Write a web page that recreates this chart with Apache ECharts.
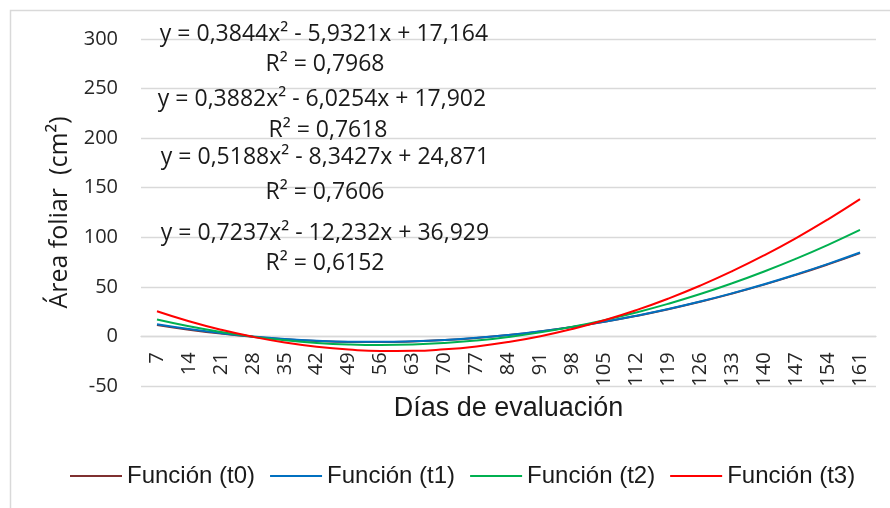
<!DOCTYPE html>
<html>
<head>
<meta charset="utf-8">
<script src="https://cdn.jsdelivr.net/npm/echarts@6/dist/echarts.min.js"></script>
<style>
  html, body { margin: 0; padding: 0; background: #fff; }
  #chart { width: 890px; height: 508px; }
</style>
</head>
<body>
<div id="chart"></div>
<script>
// días de evaluación
var dias = ['7', '14', '21', '28', '35', '42', '49', '56', '63', '70', '77', '84',
  '91', '98', '105', '112', '119', '126', '133', '140', '147', '154', '161']

// valores de cada función
var t0 = [11.62, 6.84, 2.83, -0.41, -2.89, -4.59, -5.53, -5.69, -5.09, -3.72, -1.58, 1.33,
  5.01, 9.46, 14.67, 20.66, 27.41, 34.93, 43.22, 52.28, 62.11, 72.71, 84.07]
var t1 = [12.27, 7.40, 3.32, 0.01, -2.52, -4.28, -5.25, -5.46, -4.88, -3.53, -1.41, 1.50,
  5.18, 9.63, 14.87, 20.88, 27.66, 35.22, 43.56, 52.67, 62.57, 73.23, 84.68]
var t2 = [17.05, 10.26, 4.51, -0.20, -3.87, -6.51, -8.11, -8.67, -8.19, -6.68, -4.12, -0.53,
  4.09, 9.76, 16.46, 24.20, 32.98, 42.79, 53.65, 65.54, 78.47, 92.43, 107.44]
var t3 = [25.42, 15.36, 6.75, -0.42, -6.14, -10.41, -13.23, -14.61, -14.54, -13.02, -10.06, -5.64,
  0.22, 7.53, 16.28, 26.48, 38.13, 51.23, 65.78, 81.77, 99.21, 118.10, 138.43]

var nombres = ['Función (t0)', 'Función (t1)', 'Función (t2)', 'Función (t3)']
var colores = ['#7f3030', '#0070C0', '#00B050', '#FF0000']

// ecuaciones de las líneas de tendencia
var ecuaciones = [
  'y = 0,3844x² - 5,9321x + 17,164', 'R² = 0,7968',
  'y = 0,3882x² - 6,0254x + 17,902', 'R² = 0,7618',
  'y = 0,5188x² - 8,3427x + 24,871', 'R² = 0,7606',
  'y = 0,7237x² - 12,232x + 36,929', 'R² = 0,6152'
]
var ecPos = [[324, 34], [325, 64], [322, 99.5], [328, 130], [325, 157], [325, 192.5], [325, 233], [325, 263]]

var chart = echarts.init(document.getElementById('chart'))

var seriesData = []
var valores = [t0, t1, t2, t3]
for (let i = 0; i < valores.length; i++) {
  seriesData.push({
    name: nombres[i],
    type: 'line',
    smooth: true,
    symbol: 'none',
    data: valores[i],
    color: colores[i],
    lineStyle: { width: 2, color: colores[i] }
  })
}

var textos = []
for (let i = 0; i < ecuaciones.length; i++) {
  textos.push({
    type: 'text',
    x: ecPos[i][0],
    y: ecPos[i][1],
    z: 10,
    style: {
      text: ecuaciones[i],
      font: '23px "Open Sans"',
      fill: '#1a1a1a',
      align: 'center',
      verticalAlign: 'middle'
    }
  })
}
// marco exterior
textos.push({
  type: 'rect',
  shape: { x: 10.5, y: 10.5, width: 900, height: 520 },
  style: { fill: 'none', stroke: '#d9d9d9', lineWidth: 1.5 },
  z: -1
})

// el eje x va sobre y = 0 (50 unidades por encima del borde inferior)
var gridH = 508 - 39 - 122
var offsetCero = -50 * gridH / 350

var option = {
  animation: false,
  backgroundColor: '#fff',
  grid: { left: 141, right: 14, top: 39, bottom: 122 },
  legend: {
    data: nombres,
    left: 70,
    top: 464,
    padding: 0,
    icon: 'rect',
    itemWidth: 52,
    itemHeight: 2,
    itemGap: 15,
    textStyle: { fontFamily: 'Liberation Sans', fontSize: 24, color: '#1a1a1a' }
  },
  xAxis: {
    type: 'category',
    data: dias,
    boundaryGap: true,
    offset: offsetCero,
    name: 'Días de evaluación',
    nameLocation: 'middle',
    nameGap: 57,
    nameTextStyle: { fontFamily: 'Liberation Sans', fontSize: 27, color: '#1a1a1a' },
    axisLine: { show: true, onZero: false, lineStyle: { color: '#d9d9d9', width: 1.3 } },
    axisTick: { show: false },
    axisLabel: {
      rotate: 90,
      interval: 0,
      margin: 16,
      fontFamily: 'Open Sans',
      fontSize: 20,
      color: '#262626'
    }
  },
  yAxis: {
    type: 'value',
    min: -50,
    max: 300,
    interval: 50,
    name: 'Área foliar  (cm²)',
    nameLocation: 'middle',
    nameGap: 69,
    nameTextStyle: { fontFamily: 'Open Sans', fontSize: 25, color: '#1a1a1a' },
    axisLine: { show: false },
    axisTick: { show: false },
    axisLabel: { margin: 23, fontFamily: 'Open Sans', fontSize: 20, color: '#262626' },
    splitLine: { lineStyle: { color: '#d9d9d9', width: 1.3 } }
  },
  graphic: textos,
  series: seriesData
}
chart.setOption(option)
</script>
</body>
</html>
